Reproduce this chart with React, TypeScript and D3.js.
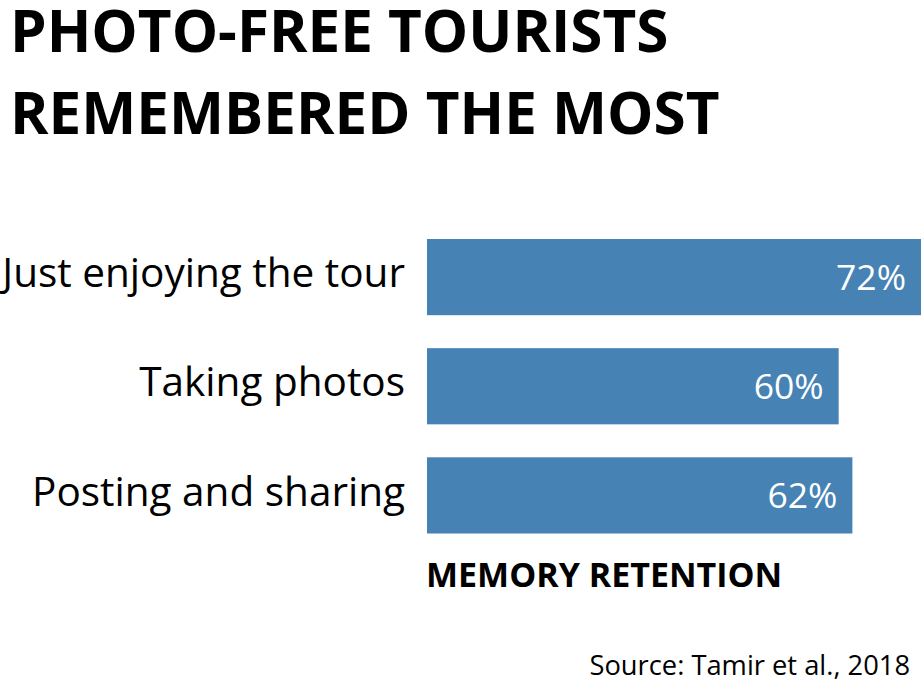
import React, { useRef, useEffect } from 'react';
import * as d3 from 'd3';

const categories = ['Just enjoying the tour', 'Taking photos', 'Posting and sharing'];
const retention = [72, 60, 62];
const titleLines = ['PHOTO-FREE TOURISTS', 'REMEMBERED THE MOST'];
const axisTitle = 'MEMORY RETENTION';
const sourceNote = 'Source: Tamir et al., 2018';

const App: React.FC = () => {
  const svgRef = useRef<SVGSVGElement>(null);

  useEffect(() => {
    document.body.style.margin = '0';
    const width = 923, height = 686;
    const svg = d3.select(svgRef.current as SVGSVGElement)
      .attr('width', width)
      .attr('height', height)
      .style('font-family', '"Open Sans", sans-serif');
    svg.selectAll('*').remove();

    const x = d3.scaleLinear().domain([0, 72]).range([427, 921]);
    const y = d3.scaleBand<string>().domain(categories).range([239, 533.5]).paddingInner(0.302);

    // title
    svg.append('g').selectAll('text')
      .data(titleLines)
      .join('text')
      .attr('x', 10)
      .attr('y', (_, i) => 52 + i * 82)
      .attr('font-size', 58.4)
      .attr('font-weight', 700)
      .attr('fill', '#000')
      .text(d => d);

    // bars
    const rows = d3.zip(categories, retention) as [string, number][];
    svg.append('g').selectAll('rect')
      .data(rows)
      .join('rect')
      .attr('x', x(0))
      .attr('y', d => y(d[0])!)
      .attr('width', d => x(d[1]) - x(0))
      .attr('height', y.bandwidth())
      .attr('fill', '#4682b4');

    // value labels inside bars
    svg.append('g').selectAll('text')
      .data(rows)
      .join('text')
      .attr('x', d => x(d[1]) - 15)
      .attr('y', d => y(d[0])! + y.bandwidth() / 2)
      .attr('dy', '0.36em')
      .attr('text-anchor', 'end')
      .attr('font-size', 35.5)
      .attr('fill', '#fff')
      .text(d => d[1] + '%');

    // category labels
    svg.append('g').selectAll('text')
      .data(categories)
      .join('text')
      .attr('x', 405)
      .attr('y', d => y(d)! + y.bandwidth() / 2)
      .attr('dy', '0.25em')
      .attr('text-anchor', 'end')
      .attr('font-size', 40.5)
      .attr('fill', '#000')
      .text(d => d);

    svg.append('text')
      .attr('x', 426)
      .attr('y', 587)
      .attr('font-size', 34)
      .attr('font-weight', 700)
      .text(axisTitle);

    svg.append('text')
      .attr('x', 910)
      .attr('y', 675)
      .attr('text-anchor', 'end')
      .attr('font-size', 27.3)
      .text(sourceNote);
  }, []);

  return <svg ref={svgRef} style={{ display: 'block' }} />;
};

export default App;
